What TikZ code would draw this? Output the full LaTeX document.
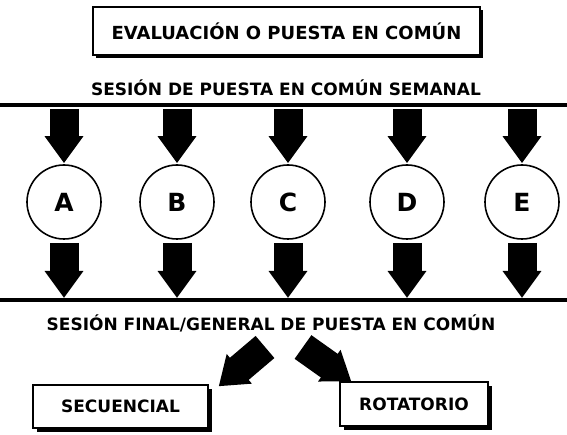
\documentclass[tikz,border=0pt]{standalone}
\usepackage{fontspec}
\setmainfont{DejaVu Sans}
\usetikzlibrary{arrows.meta,calc}
\tikzset{
  lbl/.style={font=\bfseries\fontsize{17}{20}\selectfont, inner sep=0pt},
  framebox/.style={draw, line width=1.4pt, fill=white, inner sep=0pt},
  circ/.style={circle, draw, line width=1.6pt, minimum size=74pt, inner sep=0pt, font=\bfseries\fontsize{25}{27}\selectfont},
  blk/.style={line width=29pt, -{Triangle[width=37pt,length=27pt]}},
  rule/.style={line width=4.5pt}
}
\begin{document}
\begin{tikzpicture}[x=1pt,y=-1pt]
\useasboundingbox (0,0) rectangle (567,435);
% top box
\fill (96,10) rectangle (483,58);
\node[framebox, minimum width=387pt, minimum height=48pt] (top) at (286.5,31) {};
\node[lbl, font=\bfseries\fontsize{18}{20}\selectfont] (toptxt) at (top.center) {EVALUACIÓN O PUESTA EN COMÚN};
% weekly session
\node[lbl] (week) at (286,88) {SESIÓN DE PUESTA EN COMÚN SEMANAL};
\coordinate (tlL) at (0,105);
\coordinate (tlR) at (567,105);
\draw[rule] (tlL) -- (tlR);
% circles
\node[circ] (A) at (64,202) {A};
\node[circ] (B) at (177,202) {B};
\node[circ] (C) at (288,202) {C};
\node[circ] (D) at (407,202) {D};
\node[circ] (E) at (522,202) {E};
\coordinate (blL) at (0,300);
\coordinate (blR) at (567,300);
\draw[rule] (blL) -- (blR);
\foreach \n in {A,B,C,D,E}{
  \draw[blk] ($(\n |- tlL)+(0,4)$) -- ($(\n.north)+(0,-1)$);
  \draw[blk] ($(\n.south)+(0,3)$) -- ($(\n |- blL)+(0,-2)$);
}
% final session
\node[lbl] (final) at (271,323) {SESIÓN FINAL/GENERAL DE PUESTA EN COMÚN};
% result boxes
\fill (37,389) rectangle (212,432);
\node[framebox, minimum width=175pt, minimum height=43pt] (sec) at (120.5,406.5) {};
\node[lbl] (sectxt) at (sec.center) {SECUENCIAL};
\fill (344,386) rectangle (492,430);
\node[framebox, minimum width=148pt, minimum height=44pt] (rot) at (414,404) {};
\node[lbl] (rottxt) at (rot.center) {ROTATORIO};
\coordinate (la) at (265,347);
\coordinate (ra) at (303,347);
\draw[blk] (la) -- ($(sec.north east)+(10,2)$);
\draw[blk] (ra) -- ($(rot.north west)+(12,0)$);
\end{tikzpicture}
\end{document}
